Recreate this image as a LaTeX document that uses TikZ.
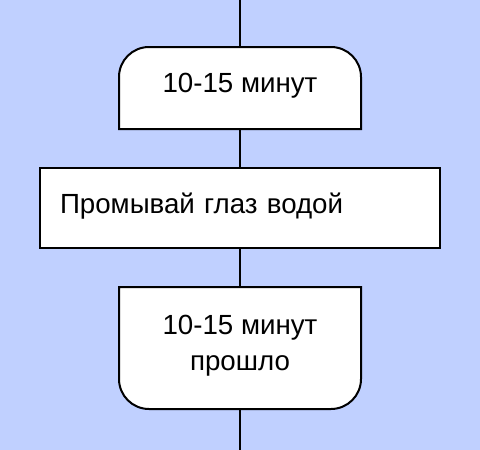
\documentclass[tikz,border=0pt]{standalone}
\usepackage{fontspec}
\setmainfont{Liberation Sans}
\definecolor{flow_bg}{RGB}{192, 208, 255}
\usetikzlibrary{positioning}

\begin{document}
\begin{tikzpicture}[
        x=1pt, y=-1pt,
        line width=2pt,
        every node/.style={font=\fontsize{27.7}{35.7}\selectfont, inner sep=0pt},
        term/.style={minimum width=240pt, align=center},
        stepbox/.style={draw, fill=white, minimum width=400pt, minimum height=80pt,
                    text width=360pt, inner xsep=20pt, align=left,
                    text height=20pt, text depth=10pt},
      ]
        \fill[flow_bg] (0,0) rectangle (480,450);
        \useasboundingbox (0,0) rectangle (480,450);

        \coordinate (in)  at (240,0);
        \coordinate (out) at (240,450);

        % terminal shapes: outline drawn after, text in the node
        \node[term, minimum height=80pt]  (start) at (240,88)  {};
        \node[stepbox]                    (wash)  at (240,208) {Промывай глаз водой};
        \node[term, minimum height=120pt] (done)  at (240,348) {};

        \filldraw[fill=white] (start.south west) [rounded corners=30pt]
          -- (start.north west) -- (start.north east)
          [sharp corners] -- (start.south east) -- cycle;
        \filldraw[fill=white] (done.north east) [rounded corners=30pt]
          -- (done.south east) -- (done.south west)
          [sharp corners] -- (done.north west) -- cycle;
        \node at ([yshift=2pt]start.center) {10-15 минут};
        \node[align=center] at ([yshift=2pt]done.center) {10-15 минут\\прошло};

        \draw (in)    -- (start);
        \draw (start) -- (wash);
        \draw (wash)  -- (done);
        \draw (done)  -- (out);
      \end{tikzpicture}
\end{document}
